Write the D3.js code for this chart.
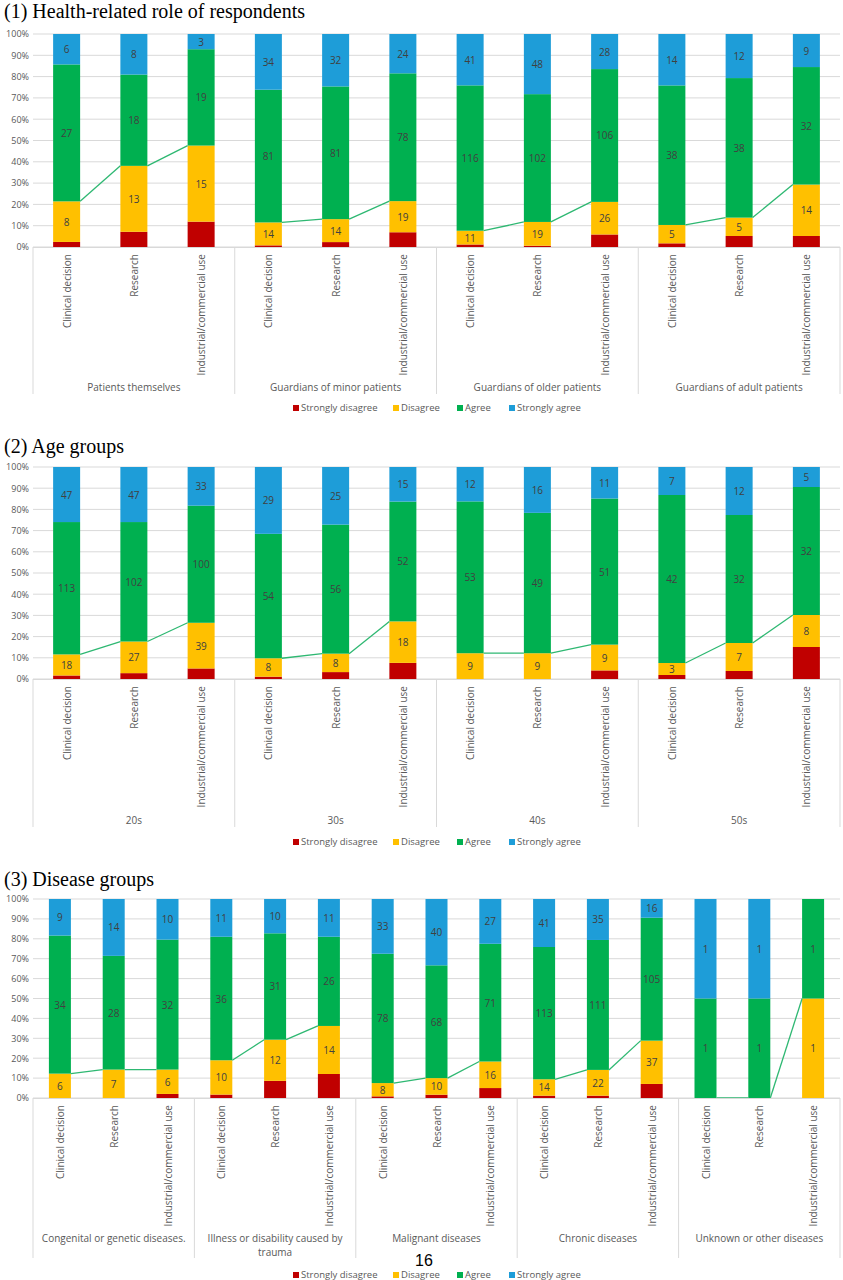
<!DOCTYPE html>
<html><head><meta charset="utf-8">
<script src="https://cdn.jsdelivr.net/npm/d3@7"></script>
<style>body{margin:0;background:#fff}svg{display:block}</style>
</head><body><svg id="c" width="843" height="1280"></svg>
<script>
const seriesNames = ["Strongly disagree","Disagree","Agree","Strongly agree"];
const colors = ["#C00000","#FFC000","#00B050","#1E9DD8"];
const categories = ["Clinical decision","Research","Industrial/commercial use"];
const ticks = [0,10,20,30,40,50,60,70,80,90,100];

const roleGroups = ["Patients themselves","Guardians of minor patients","Guardians of older patients","Guardians of adult patients"];
const roleSD = [1,3,5, 1,3,9, 2,1,10, 1,3,3];
const roleD  = [8,13,15, 14,14,19, 11,19,26, 5,5,14];
const roleA  = [27,18,19, 81,81,78, 116,102,106, 38,38,32];
const roleSA = [6,8,3, 34,32,24, 41,48,28, 14,12,9];

const ageGroups = ["20s","30s","40s","50s"];
const ageSD = [3,5,9, 1,3,7, 0,0,3, 1,2,8];
const ageD  = [18,27,39, 8,8,18, 9,9,9, 3,7,8];
const ageA  = [113,102,100, 54,56,52, 53,49,51, 42,32,32];
const ageSA = [47,47,33, 29,25,15, 12,16,11, 7,12,5];

const disGroups = ["Congenital or genetic diseases.","Illness or disability caused by|trauma","Malignant diseases","Chronic diseases","Unknown or other diseases"];
const disSD = [0,0,1, 1,5,7, 1,2,6, 2,2,12, 0,0,0];
const disD  = [6,7,6, 10,12,14, 8,10,16, 14,22,37, 0,0,1];
const disA  = [34,28,32, 36,31,26, 78,68,71, 113,111,105, 1,1,1];
const disSA = [9,14,10, 11,10,11, 33,40,27, 41,35,16, 1,1,0];

const svg = d3.select("#c");
const X0 = 33, X1 = 840;

function panel(title, titleY, top, bottom, groups, sd, d, a, sa, barW, grpY, sepBottom, legY){
  svg.append("text").attr("x",4).attr("y",titleY).attr("font-family","Liberation Serif")
    .attr("font-size",20).attr("fill","#000").text(title);
  const y = d3.scaleLinear().domain([0,100]).range([bottom, top]);
  const keys = [];
  groups.forEach((g,gi)=>categories.forEach((c,ci)=>keys.push(gi+"|"+ci)));
  const x = d3.scaleBand().domain(keys).range([X0,X1]);
  const gx = d3.scaleBand().domain(groups.map((g,i)=>i)).range([X0,X1]);
  svg.append("g").selectAll("line").data(ticks).join("line")
    .attr("x1",X0).attr("x2",X1).attr("y1",t=>y(t)).attr("y2",t=>y(t))
    .attr("stroke","#d9d9d9").attr("stroke-width",1);
  const ax = svg.append("g").attr("transform",`translate(${X0},0)`)
    .call(d3.axisLeft(y).tickValues(ticks).tickFormat(t=>t+"%").tickSize(0).tickPadding(4));
  ax.select(".domain").remove();
  ax.selectAll("text").attr("font-family","Open Sans").attr("font-size",9).attr("fill","#595959");
  const rows = keys.map((k,i)=>{
    const vals=[sd[i],d[i],a[i],sa[i]]; const tot=d3.sum(vals);
    let acc=0; const segs = vals.map((v,si)=>{const s={k,si,v,y0:acc/tot*100,y1:(acc+v)/tot*100}; acc+=v; return s;});
    return {k,segs,line:(sd[i]+d[i])/tot*100,g:+k.split("|")[0]};
  });
  const bw = barW;
  rows.forEach(r=>{
    const cx = x(r.k)+x.bandwidth()/2;
    r.segs.forEach(s=>{
      if(s.v<=0) return;
      svg.append("rect").attr("x",cx-bw/2).attr("width",bw)
        .attr("y",y(s.y1)).attr("height",y(s.y0)-y(s.y1)).attr("fill",colors[s.si]);
      if(s.si>0) svg.append("text").attr("x",cx).attr("y",(y(s.y0)+y(s.y1))/2+4)
        .attr("text-anchor","middle").attr("font-family","Open Sans").attr("font-size",10)
        .attr("fill","#404040").text(s.v);
    });
  });
  groups.forEach((g,gi)=>{
    const pts = rows.filter(r=>r.g===gi).map(r=>[x(r.k)+x.bandwidth()/2, y(r.line)]);
    for(let i=0;i<pts.length-1;i++){
      const sg=[[pts[i][0]+bw/2,pts[i][1]],[pts[i+1][0]-bw/2,pts[i+1][1]]];
      svg.append("path").attr("d",d3.line()(sg)).attr("stroke","#2EB872").attr("stroke-width",1.3).attr("fill","none");
    }
  });
  svg.append("line").attr("x1",X0).attr("x2",X1).attr("y1",bottom+0.5).attr("y2",bottom+0.5).attr("stroke","#d9d9d9");
  d3.range(groups.length+1).forEach(i=>{
    const xx = i<groups.length? gx(i): X1;
    svg.append("line").attr("x1",xx).attr("x2",xx).attr("y1",bottom).attr("y2",sepBottom).attr("stroke","#d9d9d9");
  });
  rows.forEach(r=>{
    const cx = x(r.k)+x.bandwidth()/2;
    svg.append("text").attr("transform",`translate(${cx+4},${bottom+7}) rotate(-90)`)
      .attr("text-anchor","end").attr("font-family","Open Sans").attr("font-size",10).attr("fill","#595959")
      .text(categories[+r.k.split("|")[1]]);
  });
  groups.forEach((g,gi)=>{
    g.split("|").forEach((ln,li)=>svg.append("text").attr("x",gx(gi)+gx.bandwidth()/2).attr("y",grpY+li*14)
      .attr("text-anchor","middle").attr("font-family","Open Sans").attr("font-size",10).attr("fill","#595959").text(ln));
  });
  const widths=[90,54,42,76];
  let lx = 293;
  seriesNames.forEach((n,i)=>{
    svg.append("rect").attr("x",lx).attr("y",legY-6).attr("width",6).attr("height",6).attr("fill",colors[i]);
    svg.append("text").attr("x",lx+8).attr("y",legY).attr("font-family","Open Sans").attr("font-size",9.5).attr("fill","#595959").text(n);
    lx += widths[i]+10;
  });
}
panel("(1) Health-related role of respondents",18,34,247,roleGroups,roleSD,roleD,roleA,roleSA,27,391,394,411);
panel("(2) Age groups",453,467,679,ageGroups,ageSD,ageD,ageA,ageSA,27,824,827,845);
panel("(3) Disease groups",886,899,1098,disGroups,disSD,disD,disA,disSA,22,1242,1258,1278);
svg.append("text").attr("x",424).attr("y",1266).attr("text-anchor","middle").attr("font-family","Liberation Sans").attr("font-size",16).attr("fill","#000").text("16");
</script></body></html>
